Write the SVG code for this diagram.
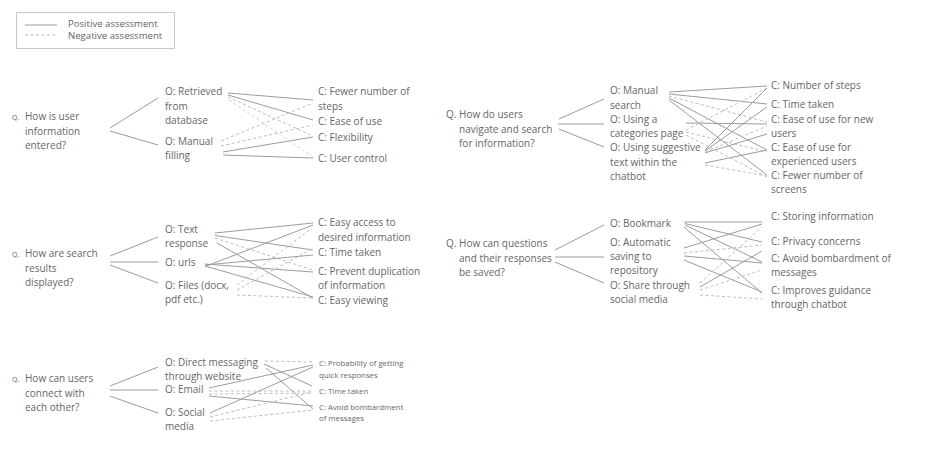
<svg xmlns="http://www.w3.org/2000/svg" width="946" height="450" viewBox="0 0 946 450">
<style>
text{font-family:"Open Sans","Liberation Sans",sans-serif;font-size:10px;fill:#666}
.q{font-size:7px}
.s{font-size:7.8px}
.l{font-size:9.6px}
.p{stroke:#9c9c9c;stroke-width:1;fill:none}
.n{stroke:#bdbdbd;stroke-width:1;fill:none;stroke-dasharray:3 2.5}
</style>
<rect width="946" height="450" fill="#fff"/>
<g id="legend">
<rect x="16.5" y="12.5" width="158" height="36" fill="#fff" stroke="#c8c8c8"/>
<line x1="25" y1="25" x2="57" y2="25" class="p"/>
<line x1="25" y1="35" x2="57" y2="35" class="n"/>
<text x="68" y="27" class="l">Positive assessment</text>
<text x="68" y="39" class="l">Negative assessment</text>
</g>

<!-- Panel 1 -->
<g id="q1"><text x="12" y="120" class="q">Q.</text><text x="25" y="120">How is user</text><text x="25" y="134.5">information</text><text x="25" y="149">entered?</text></g>
<g id="o1a"><text x="165" y="95">O: Retrieved</text><text x="165" y="109.5">from</text><text x="165" y="124">database</text></g>
<g id="o1b"><text x="165" y="144.5">O: Manual</text><text x="165" y="159">filling</text></g>
<g id="c1a"><text x="318" y="95">C: Fewer number of</text><text x="318" y="109.5">steps</text></g>
<g id="c1b"><text x="318" y="125">C: Ease of use</text></g>
<g id="c1c"><text x="318" y="141">C: Flexibility</text></g>
<g id="c1d"><text x="318" y="162">C: User control</text></g>

<!-- Panel 2 -->
<g id="q2"><text x="446" y="118">Q. How do users</text><text x="459" y="132.5">navigate and search</text><text x="459" y="147">for information?</text></g>
<g id="o2a"><text x="610" y="94">O: Manual</text><text x="610" y="108.5">search</text></g>
<g id="o2b"><text x="610" y="122.5">O: Using a</text><text x="610" y="137">categories page</text></g>
<g id="o2c"><text x="610" y="151">O: Using suggestive</text><text x="610" y="165.5">text within the</text><text x="610" y="180">chatbot</text></g>
<g id="c2a"><text x="771" y="89">C: Number of steps</text></g>
<g id="c2b"><text x="771" y="108">C: Time taken</text></g>
<g id="c2c"><text x="771" y="123">C: Ease of use for new</text><text x="771" y="137">users</text></g>
<g id="c2d"><text x="771" y="151">C: Ease of use for</text><text x="771" y="165">experienced users</text></g>
<g id="c2e"><text x="771" y="179">C: Fewer number of</text><text x="771" y="193">screens</text></g>

<!-- Panel 3 -->
<g id="q3"><text x="12" y="257" class="q">Q.</text><text x="25" y="257">How are search</text><text x="25" y="271.5">results</text><text x="25" y="286">displayed?</text></g>
<g id="o3a"><text x="165" y="233">O: Text</text><text x="165" y="247">response</text></g>
<g id="o3b"><text x="165" y="266">O: urls</text></g>
<g id="o3c"><text x="165" y="288.5">O: Files (docx,</text><text x="165" y="302.5">pdf etc.)</text></g>
<g id="c3a"><text x="318" y="226">C: Easy access to</text><text x="318" y="240.5">desired information</text></g>
<g id="c3b"><text x="318" y="256">C: Time taken</text></g>
<g id="c3c"><text x="318" y="275">C: Prevent duplication</text><text x="318" y="289">of information</text></g>
<g id="c3d"><text x="318" y="304">C: Easy viewing</text></g>

<!-- Panel 4 -->
<g id="q4"><text x="446" y="247">Q. How can questions</text><text x="459" y="261.5">and their responses</text><text x="459" y="276">be saved?</text></g>
<g id="o4a"><text x="610" y="227">O: Bookmark</text></g>
<g id="o4b"><text x="610" y="245.5">O: Automatic</text><text x="610" y="259.5">saving to</text><text x="610" y="274">repository</text></g>
<g id="o4c"><text x="610" y="288.5">O: Share through</text><text x="610" y="302.5">social media</text></g>
<g id="c4a"><text x="771" y="220">C: Storing information</text></g>
<g id="c4b"><text x="771" y="244.5">C: Privacy concerns</text></g>
<g id="c4c"><text x="771" y="262">C: Avoid bombardment of</text><text x="771" y="276">messages</text></g>
<g id="c4d"><text x="771" y="294">C: Improves guidance</text><text x="771" y="308">through chatbot</text></g>

<!-- Panel 5 -->
<g id="q5"><text x="12" y="382" class="q">Q.</text><text x="25" y="382">How can users</text><text x="25" y="396.5">connect with</text><text x="25" y="411">each other?</text></g>
<g id="o5a"><text x="165" y="366">O: Direct messaging</text><text x="165" y="380">through website</text></g>
<g id="o5b"><text x="165" y="393">O: Email</text></g>
<g id="o5c"><text x="165" y="416">O: Social</text><text x="165" y="430">media</text></g>
<g id="c5a"><text x="319" y="366" class="s">C: Probability of getting</text><text x="319" y="378" class="s">quick responses</text></g>
<g id="c5b"><text x="319" y="394" class="s">C: Time taken</text></g>
<g id="c5c"><text x="319" y="409.5" class="s">C: Avoid bombardment</text><text x="319" y="421" class="s">of messages</text></g>

<g id="connectors">
<!-- Panel 1 -->
<line x1="110" y1="128" x2="158" y2="98" class="p"/>
<line x1="110" y1="131" x2="158" y2="145" class="p"/>
<line x1="228" y1="93" x2="313" y2="100" class="p"/>
<line x1="228" y1="95" x2="313" y2="120" class="p"/>
<line x1="223" y1="152" x2="313" y2="137" class="p"/>
<line x1="223" y1="155" x2="313" y2="158" class="p"/>
<line x1="228" y1="97" x2="313" y2="136" class="n"/>
<line x1="229" y1="100" x2="313" y2="157" class="n" style="stroke:#d4d4d4"/>
<line x1="221" y1="141" x2="313" y2="103" class="n"/>
<line x1="221" y1="146" x2="313" y2="125" class="n"/>
<!-- Panel 2 -->
<line x1="559" y1="119" x2="604" y2="99" class="p"/>
<line x1="558" y1="124" x2="604" y2="124" class="p"/>
<line x1="559" y1="129" x2="604" y2="147" class="p"/>
<line x1="669" y1="92" x2="767" y2="86" class="p"/>
<line x1="669" y1="94" x2="767" y2="104" class="p"/>
<line x1="669" y1="96" x2="767" y2="122" class="n"/>
<line x1="669" y1="98" x2="767" y2="150" class="p"/>
<line x1="669" y1="100" x2="767" y2="175" class="p"/>
<line x1="686" y1="123" x2="767" y2="124" class="p"/>
<line x1="686" y1="130" x2="767" y2="88" class="n"/>
<line x1="686" y1="132" x2="767" y2="152" class="n"/>
<line x1="686" y1="135" x2="767" y2="177" class="n"/>
<line x1="705" y1="150" x2="767" y2="88" class="p"/>
<line x1="705" y1="151" x2="767" y2="107" class="p"/>
<line x1="705" y1="152" x2="767" y2="126" class="n"/>
<line x1="705" y1="153" x2="767" y2="134" class="p"/>
<line x1="705" y1="163" x2="767" y2="150" class="p"/>
<line x1="705" y1="165" x2="767" y2="176" class="n"/>
<!-- Panel 3 -->
<line x1="110" y1="256" x2="158" y2="237" class="p"/>
<line x1="110" y1="262" x2="158" y2="262" class="p"/>
<line x1="110" y1="265" x2="158" y2="283" class="p"/>
<line x1="215" y1="233" x2="313" y2="223" class="p"/>
<line x1="215" y1="235.5" x2="313" y2="250" class="p"/>
<line x1="215" y1="238" x2="313" y2="270" class="n"/>
<line x1="217" y1="243" x2="313" y2="298" class="p"/>
<line x1="205" y1="266.5" x2="313" y2="225" class="p"/>
<line x1="205" y1="265" x2="313" y2="255" class="p"/>
<line x1="205" y1="264" x2="313" y2="272" class="p"/>
<line x1="205" y1="266" x2="313" y2="297" class="p"/>
<line x1="237" y1="285" x2="312" y2="228" class="n"/>
<line x1="237" y1="290" x2="312" y2="249" class="n"/>
<line x1="237" y1="295" x2="312" y2="298" class="n"/>
<!-- Panel 4 -->
<line x1="555" y1="250" x2="604" y2="225" class="p"/>
<line x1="555" y1="257" x2="604" y2="257" class="p"/>
<line x1="555" y1="262" x2="604" y2="283" class="p"/>
<line x1="684" y1="222" x2="762" y2="222" class="p"/>
<line x1="685" y1="223.5" x2="762" y2="242" class="p"/>
<line x1="685" y1="225" x2="762" y2="262" class="p"/>
<line x1="684" y1="227" x2="762" y2="293" class="p"/>
<line x1="684" y1="248" x2="762" y2="224" class="p"/>
<line x1="684" y1="253" x2="762" y2="245" class="n"/>
<line x1="684" y1="256" x2="762" y2="263" class="p"/>
<line x1="684" y1="260" x2="762" y2="292" class="p"/>
<line x1="700" y1="283" x2="762" y2="227" class="n"/>
<line x1="700" y1="287" x2="762" y2="251" class="p"/>
<line x1="700" y1="290" x2="762" y2="270" class="n"/>
<line x1="700" y1="295" x2="762" y2="299" class="n"/>
<!-- Panel 5 -->
<line x1="110" y1="386" x2="158" y2="367" class="p"/>
<line x1="110" y1="390" x2="158" y2="390" class="p"/>
<line x1="110" y1="396" x2="158" y2="413" class="p"/>
<line x1="265" y1="361" x2="312" y2="362" class="n"/>
<line x1="264" y1="364" x2="312" y2="386" class="p"/>
<line x1="266" y1="368" x2="313" y2="409" class="p"/>
<line x1="209" y1="388" x2="313" y2="365" class="p"/>
<line x1="209" y1="391" x2="312" y2="391" class="n"/>
<line x1="209" y1="394" x2="312" y2="393" class="n"/>
<line x1="209" y1="396" x2="313" y2="406" class="p"/>
<line x1="210" y1="413" x2="313" y2="367" class="p"/>
<line x1="210" y1="417" x2="312" y2="392" class="n"/>
<line x1="210" y1="421" x2="313" y2="410" class="n"/>
</g>
</svg>
